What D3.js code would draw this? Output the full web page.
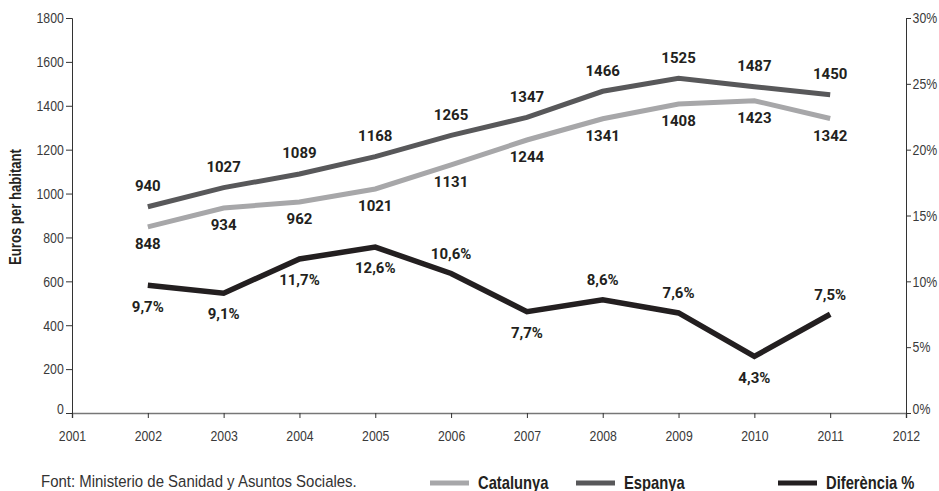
<!DOCTYPE html>
<html>
<head>
<meta charset="utf-8">
<script src="https://cdn.jsdelivr.net/npm/d3@7"></script>
<style>
  body { margin: 0; background: #fff; }
  svg text { font-family: "Liberation Sans", Arial, sans-serif; }
</style>
</head>
<body>
<svg id="chart" width="939" height="491"></svg>
<script>
// data
const years = [2002, 2003, 2004, 2005, 2006, 2007, 2008, 2009, 2010, 2011];
const catalunya = [848, 934, 962, 1021, 1131, 1244, 1341, 1408, 1423, 1342];
const espanya = [940, 1027, 1089, 1168, 1265, 1347, 1466, 1525, 1487, 1450];
const diferencia = [9.7, 9.1, 11.7, 12.6, 10.6, 7.7, 8.6, 7.6, 4.3, 7.5];
const diffLabelSide = ["below", "below", "below", "below", "above", "below", "above", "above", "below", "above"];

const xTicks = [2001, 2002, 2003, 2004, 2005, 2006, 2007, 2008, 2009, 2010, 2011, 2012];
const leftTicks = [0, 200, 400, 600, 800, 1000, 1200, 1400, 1600, 1800];
const rightTicks = [0, 5, 10, 15, 20, 25, 30];

const colors = { cat: "#a7a7a9", esp: "#58585a", diff: "#231f20" };
const squeeze = "scale(0.82,1)"; // fake a condensed face

const svg = d3.select("#chart");
const m = { left: 72, right: 906, top: 18, bottom: 413 };

const x = d3.scaleLinear().domain([2001, 2012]).range([m.left, m.right]);
const y = d3.scaleLinear().domain([0, 1800]).range([m.bottom, m.top]);
const y2 = d3.scaleLinear().domain([0, 30]).range([m.bottom, m.top]);

const comma = d3.formatLocale({ decimal: ",", thousands: ".", grouping: [3], currency: ["", "€"] });
const pct = comma.format(".1f");

// axes
const gx = svg.append("g")
    .attr("transform", `translate(0,${m.bottom})`)
    .call(d3.axisBottom(x).tickValues(xTicks).tickFormat(d3.format("d")).tickSize(5).tickPadding(12));
gx.select(".domain").attr("stroke", "#777").attr("stroke-width", 1.5);

const gy = svg.append("g")
    .attr("transform", `translate(${m.left},0)`)
    .call(d3.axisLeft(y).tickValues(leftTicks).tickFormat(d3.format("d")).tickSize(6).tickPadding(4));

const gy2 = svg.append("g")
    .attr("transform", `translate(${m.right},0)`)
    .call(d3.axisRight(y2).tickValues(rightTicks).tickFormat(d => d + "%").tickSize(5).tickPadding(3));

[gx, gy, gy2].forEach(g => {
    g.selectAll("text").attr("font-size", 15).attr("fill", "#3a3a3a")
        .attr("font-family", '"Liberation Sans", Arial, sans-serif')
        .attr("transform", squeeze);
    g.selectAll(".tick line").attr("stroke", "#333");
});
gy.select(".domain").attr("stroke", "#333");
gy2.select(".domain").attr("stroke", "#333");
gy.selectAll(".tick").filter(d => d === 0).select("text").attr("dy", "0.0em");
gy2.selectAll(".tick").filter(d => d === 0).select("text").attr("dy", "0.0em");

svg.append("g")
    .attr("transform", `translate(21,207) rotate(-90)`)
    .append("text")
    .attr("transform", squeeze)
    .attr("text-anchor", "middle")
    .attr("font-size", 16)
    .attr("font-weight", "bold")
    .attr("fill", "#231f20")
    .text("Euros per habitant");

// lines
const lineL = d3.line().x((d, i) => x(years[i])).y(d => y(d));
const lineR = d3.line().x((d, i) => x(years[i])).y(d => y2(d));

svg.append("path").datum(catalunya).attr("d", lineL)
    .attr("fill", "none").attr("stroke", colors.cat).attr("stroke-width", 5);
svg.append("path").datum(espanya).attr("d", lineL)
    .attr("fill", "none").attr("stroke", colors.esp).attr("stroke-width", 5);
svg.append("path").datum(diferencia).attr("d", lineR)
    .attr("fill", "none").attr("stroke", colors.diff).attr("stroke-width", 5.5);

// value labels
function labels(values, yScale, offsets, fmt) {
    svg.append("g").selectAll("text").data(values).join("text")
        .attr("x", (d, i) => x(years[i]))
        .attr("y", (d, i) => yScale(d) + offsets(i))
        .attr("dy", "0.35em")
        .attr("text-anchor", "middle")
        .attr("font-size", 15)
        .attr("font-weight", "bold")
        .attr("fill", "#231f20")
        .style("font-family", "Roboto, sans-serif")
        .text(fmt);
}
labels(espanya, y, () => -21, d => d);
labels(catalunya, y, () => 17, d => d);
labels(diferencia, y2, i => diffLabelSide[i] === "above" ? -20 : 21, d => pct(d) + "%");

// footer
svg.append("g").attr("transform", "translate(41,487)")
    .append("text")
    .attr("transform", "scale(0.88,1)")
    .attr("font-size", 17)
    .attr("fill", "#333")
    .text("Font: Ministerio de Sanidad y Asuntos Sociales.");

const legend = [
    { name: "Catalunya", color: colors.cat, x0: 430 },
    { name: "Espanya", color: colors.esp, x0: 576 },
    { name: "Diferència %", color: colors.diff, x0: 778 }
];
const lg = svg.append("g").selectAll("g").data(legend).join("g")
    .attr("transform", d => `translate(${d.x0},0)`);
lg.append("line").attr("x1", 0).attr("x2", 39).attr("y1", 483).attr("y2", 483)
    .attr("stroke", d => d.color).attr("stroke-width", 5);
lg.append("g").attr("transform", "translate(48,489)")
    .append("text").attr("transform", squeeze)
    .attr("font-size", 18).attr("font-weight", "bold").attr("fill", "#231f20")
    .text(d => d.name);
</script>
</body>
</html>
